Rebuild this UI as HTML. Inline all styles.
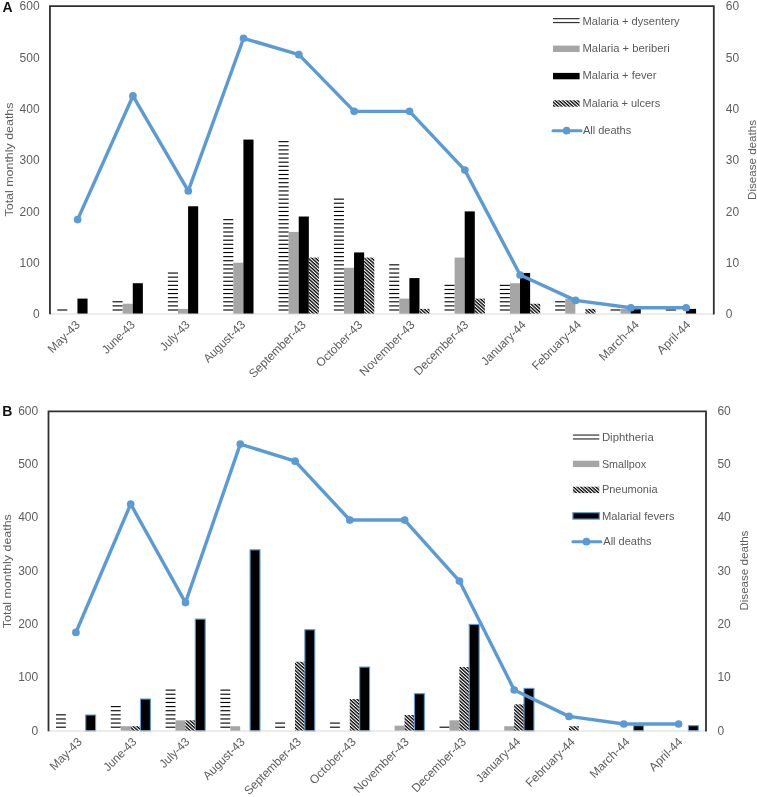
<!DOCTYPE html>
<html lang="en"><head><meta charset="utf-8"><title>Monthly deaths charts</title>
<style>
html,body{margin:0;padding:0;background:#fff;}
svg{display:block;}
.t{font-family:"Liberation Sans",sans-serif;font-size:12px;fill:#5e5e5e;}
.l{font-family:"Liberation Sans",sans-serif;font-size:10.8px;fill:#595959;}
.a{font-size:11.6px;}
.p{font-family:"Liberation Sans",sans-serif;font-size:14px;font-weight:bold;fill:#111;}
</style></head><body>
<svg width="757" height="797" viewBox="0 0 757 797">
<defs>
<pattern id="hatch" patternUnits="userSpaceOnUse" width="2.5" height="2.5" patternTransform="rotate(42)">
<rect x="0" y="0" width="2.5" height="2.5" fill="#fff"/>
<rect x="0" y="0" width="2.5" height="1.35" fill="#000"/>
</pattern>
</defs>
<rect x="0" y="0" width="757" height="797" fill="#fff"/>
<rect x="57.25" y="309.45" width="10.1" height="1.1" fill="#000"/>
<rect x="112.57" y="309.45" width="10.1" height="1.1" fill="#000"/>
<rect x="112.57" y="305.34" width="10.1" height="1.1" fill="#000"/>
<rect x="112.57" y="301.24" width="10.1" height="1.1" fill="#000"/>
<rect x="167.89" y="309.45" width="10.1" height="1.1" fill="#000"/>
<rect x="167.89" y="305.34" width="10.1" height="1.1" fill="#000"/>
<rect x="167.89" y="301.24" width="10.1" height="1.1" fill="#000"/>
<rect x="167.89" y="297.13" width="10.1" height="1.1" fill="#000"/>
<rect x="167.89" y="293.03" width="10.1" height="1.1" fill="#000"/>
<rect x="167.89" y="288.92" width="10.1" height="1.1" fill="#000"/>
<rect x="167.89" y="284.81" width="10.1" height="1.1" fill="#000"/>
<rect x="167.89" y="280.71" width="10.1" height="1.1" fill="#000"/>
<rect x="167.89" y="276.6" width="10.1" height="1.1" fill="#000"/>
<rect x="167.89" y="272.5" width="10.1" height="1.1" fill="#000"/>
<rect x="223.21" y="309.45" width="10.1" height="1.1" fill="#000"/>
<rect x="223.21" y="305.34" width="10.1" height="1.1" fill="#000"/>
<rect x="223.21" y="301.24" width="10.1" height="1.1" fill="#000"/>
<rect x="223.21" y="297.13" width="10.1" height="1.1" fill="#000"/>
<rect x="223.21" y="293.03" width="10.1" height="1.1" fill="#000"/>
<rect x="223.21" y="288.92" width="10.1" height="1.1" fill="#000"/>
<rect x="223.21" y="284.81" width="10.1" height="1.1" fill="#000"/>
<rect x="223.21" y="280.71" width="10.1" height="1.1" fill="#000"/>
<rect x="223.21" y="276.6" width="10.1" height="1.1" fill="#000"/>
<rect x="223.21" y="272.5" width="10.1" height="1.1" fill="#000"/>
<rect x="223.21" y="268.39" width="10.1" height="1.1" fill="#000"/>
<rect x="223.21" y="264.28" width="10.1" height="1.1" fill="#000"/>
<rect x="223.21" y="260.18" width="10.1" height="1.1" fill="#000"/>
<rect x="223.21" y="256.07" width="10.1" height="1.1" fill="#000"/>
<rect x="223.21" y="251.97" width="10.1" height="1.1" fill="#000"/>
<rect x="223.21" y="247.86" width="10.1" height="1.1" fill="#000"/>
<rect x="223.21" y="243.75" width="10.1" height="1.1" fill="#000"/>
<rect x="223.21" y="239.65" width="10.1" height="1.1" fill="#000"/>
<rect x="223.21" y="235.54" width="10.1" height="1.1" fill="#000"/>
<rect x="223.21" y="231.44" width="10.1" height="1.1" fill="#000"/>
<rect x="223.21" y="227.33" width="10.1" height="1.1" fill="#000"/>
<rect x="223.21" y="223.22" width="10.1" height="1.1" fill="#000"/>
<rect x="223.21" y="219.12" width="10.1" height="1.1" fill="#000"/>
<rect x="278.53" y="309.45" width="10.1" height="1.1" fill="#000"/>
<rect x="278.53" y="305.34" width="10.1" height="1.1" fill="#000"/>
<rect x="278.53" y="301.24" width="10.1" height="1.1" fill="#000"/>
<rect x="278.53" y="297.13" width="10.1" height="1.1" fill="#000"/>
<rect x="278.53" y="293.03" width="10.1" height="1.1" fill="#000"/>
<rect x="278.53" y="288.92" width="10.1" height="1.1" fill="#000"/>
<rect x="278.53" y="284.81" width="10.1" height="1.1" fill="#000"/>
<rect x="278.53" y="280.71" width="10.1" height="1.1" fill="#000"/>
<rect x="278.53" y="276.6" width="10.1" height="1.1" fill="#000"/>
<rect x="278.53" y="272.5" width="10.1" height="1.1" fill="#000"/>
<rect x="278.53" y="268.39" width="10.1" height="1.1" fill="#000"/>
<rect x="278.53" y="264.28" width="10.1" height="1.1" fill="#000"/>
<rect x="278.53" y="260.18" width="10.1" height="1.1" fill="#000"/>
<rect x="278.53" y="256.07" width="10.1" height="1.1" fill="#000"/>
<rect x="278.53" y="251.97" width="10.1" height="1.1" fill="#000"/>
<rect x="278.53" y="247.86" width="10.1" height="1.1" fill="#000"/>
<rect x="278.53" y="243.75" width="10.1" height="1.1" fill="#000"/>
<rect x="278.53" y="239.65" width="10.1" height="1.1" fill="#000"/>
<rect x="278.53" y="235.54" width="10.1" height="1.1" fill="#000"/>
<rect x="278.53" y="231.44" width="10.1" height="1.1" fill="#000"/>
<rect x="278.53" y="227.33" width="10.1" height="1.1" fill="#000"/>
<rect x="278.53" y="223.22" width="10.1" height="1.1" fill="#000"/>
<rect x="278.53" y="219.12" width="10.1" height="1.1" fill="#000"/>
<rect x="278.53" y="215.01" width="10.1" height="1.1" fill="#000"/>
<rect x="278.53" y="210.91" width="10.1" height="1.1" fill="#000"/>
<rect x="278.53" y="206.8" width="10.1" height="1.1" fill="#000"/>
<rect x="278.53" y="202.69" width="10.1" height="1.1" fill="#000"/>
<rect x="278.53" y="198.59" width="10.1" height="1.1" fill="#000"/>
<rect x="278.53" y="194.48" width="10.1" height="1.1" fill="#000"/>
<rect x="278.53" y="190.38" width="10.1" height="1.1" fill="#000"/>
<rect x="278.53" y="186.27" width="10.1" height="1.1" fill="#000"/>
<rect x="278.53" y="182.16" width="10.1" height="1.1" fill="#000"/>
<rect x="278.53" y="178.06" width="10.1" height="1.1" fill="#000"/>
<rect x="278.53" y="173.95" width="10.1" height="1.1" fill="#000"/>
<rect x="278.53" y="169.85" width="10.1" height="1.1" fill="#000"/>
<rect x="278.53" y="165.74" width="10.1" height="1.1" fill="#000"/>
<rect x="278.53" y="161.63" width="10.1" height="1.1" fill="#000"/>
<rect x="278.53" y="157.53" width="10.1" height="1.1" fill="#000"/>
<rect x="278.53" y="153.42" width="10.1" height="1.1" fill="#000"/>
<rect x="278.53" y="149.32" width="10.1" height="1.1" fill="#000"/>
<rect x="278.53" y="145.21" width="10.1" height="1.1" fill="#000"/>
<rect x="278.53" y="141.1" width="10.1" height="1.1" fill="#000"/>
<rect x="333.85" y="309.45" width="10.1" height="1.1" fill="#000"/>
<rect x="333.85" y="305.34" width="10.1" height="1.1" fill="#000"/>
<rect x="333.85" y="301.24" width="10.1" height="1.1" fill="#000"/>
<rect x="333.85" y="297.13" width="10.1" height="1.1" fill="#000"/>
<rect x="333.85" y="293.03" width="10.1" height="1.1" fill="#000"/>
<rect x="333.85" y="288.92" width="10.1" height="1.1" fill="#000"/>
<rect x="333.85" y="284.81" width="10.1" height="1.1" fill="#000"/>
<rect x="333.85" y="280.71" width="10.1" height="1.1" fill="#000"/>
<rect x="333.85" y="276.6" width="10.1" height="1.1" fill="#000"/>
<rect x="333.85" y="272.5" width="10.1" height="1.1" fill="#000"/>
<rect x="333.85" y="268.39" width="10.1" height="1.1" fill="#000"/>
<rect x="333.85" y="264.28" width="10.1" height="1.1" fill="#000"/>
<rect x="333.85" y="260.18" width="10.1" height="1.1" fill="#000"/>
<rect x="333.85" y="256.07" width="10.1" height="1.1" fill="#000"/>
<rect x="333.85" y="251.97" width="10.1" height="1.1" fill="#000"/>
<rect x="333.85" y="247.86" width="10.1" height="1.1" fill="#000"/>
<rect x="333.85" y="243.75" width="10.1" height="1.1" fill="#000"/>
<rect x="333.85" y="239.65" width="10.1" height="1.1" fill="#000"/>
<rect x="333.85" y="235.54" width="10.1" height="1.1" fill="#000"/>
<rect x="333.85" y="231.44" width="10.1" height="1.1" fill="#000"/>
<rect x="333.85" y="227.33" width="10.1" height="1.1" fill="#000"/>
<rect x="333.85" y="223.22" width="10.1" height="1.1" fill="#000"/>
<rect x="333.85" y="219.12" width="10.1" height="1.1" fill="#000"/>
<rect x="333.85" y="215.01" width="10.1" height="1.1" fill="#000"/>
<rect x="333.85" y="210.91" width="10.1" height="1.1" fill="#000"/>
<rect x="333.85" y="206.8" width="10.1" height="1.1" fill="#000"/>
<rect x="333.85" y="202.69" width="10.1" height="1.1" fill="#000"/>
<rect x="333.85" y="198.59" width="10.1" height="1.1" fill="#000"/>
<rect x="389.17" y="309.45" width="10.1" height="1.1" fill="#000"/>
<rect x="389.17" y="305.34" width="10.1" height="1.1" fill="#000"/>
<rect x="389.17" y="301.24" width="10.1" height="1.1" fill="#000"/>
<rect x="389.17" y="297.13" width="10.1" height="1.1" fill="#000"/>
<rect x="389.17" y="293.03" width="10.1" height="1.1" fill="#000"/>
<rect x="389.17" y="288.92" width="10.1" height="1.1" fill="#000"/>
<rect x="389.17" y="284.81" width="10.1" height="1.1" fill="#000"/>
<rect x="389.17" y="280.71" width="10.1" height="1.1" fill="#000"/>
<rect x="389.17" y="276.6" width="10.1" height="1.1" fill="#000"/>
<rect x="389.17" y="272.5" width="10.1" height="1.1" fill="#000"/>
<rect x="389.17" y="268.39" width="10.1" height="1.1" fill="#000"/>
<rect x="389.17" y="264.28" width="10.1" height="1.1" fill="#000"/>
<rect x="444.5" y="309.45" width="10.1" height="1.1" fill="#000"/>
<rect x="444.5" y="305.34" width="10.1" height="1.1" fill="#000"/>
<rect x="444.5" y="301.24" width="10.1" height="1.1" fill="#000"/>
<rect x="444.5" y="297.13" width="10.1" height="1.1" fill="#000"/>
<rect x="444.5" y="293.03" width="10.1" height="1.1" fill="#000"/>
<rect x="444.5" y="288.92" width="10.1" height="1.1" fill="#000"/>
<rect x="444.5" y="284.81" width="10.1" height="1.1" fill="#000"/>
<rect x="499.82" y="309.45" width="10.1" height="1.1" fill="#000"/>
<rect x="499.82" y="305.34" width="10.1" height="1.1" fill="#000"/>
<rect x="499.82" y="301.24" width="10.1" height="1.1" fill="#000"/>
<rect x="499.82" y="297.13" width="10.1" height="1.1" fill="#000"/>
<rect x="499.82" y="293.03" width="10.1" height="1.1" fill="#000"/>
<rect x="499.82" y="288.92" width="10.1" height="1.1" fill="#000"/>
<rect x="499.82" y="284.81" width="10.1" height="1.1" fill="#000"/>
<rect x="555.14" y="309.45" width="10.1" height="1.1" fill="#000"/>
<rect x="555.14" y="305.34" width="10.1" height="1.1" fill="#000"/>
<rect x="555.14" y="301.24" width="10.1" height="1.1" fill="#000"/>
<rect x="610.46" y="309.45" width="10.1" height="1.1" fill="#000"/>
<rect x="665.78" y="309.45" width="10.1" height="1.1" fill="#000"/>
<rect x="122.67" y="303.74" width="10.1" height="10.26" fill="#A6A6A6"/>
<rect x="177.99" y="308.87" width="10.1" height="5.13" fill="#A6A6A6"/>
<rect x="233.31" y="262.7" width="10.1" height="51.3" fill="#A6A6A6"/>
<rect x="288.63" y="231.92" width="10.1" height="82.08" fill="#A6A6A6"/>
<rect x="343.95" y="267.83" width="10.1" height="46.17" fill="#A6A6A6"/>
<rect x="399.27" y="298.61" width="10.1" height="15.39" fill="#A6A6A6"/>
<rect x="454.6" y="257.57" width="10.1" height="56.43" fill="#A6A6A6"/>
<rect x="509.92" y="283.22" width="10.1" height="30.78" fill="#A6A6A6"/>
<rect x="565.24" y="298.61" width="10.1" height="15.39" fill="#A6A6A6"/>
<rect x="620.56" y="308.87" width="10.1" height="5.13" fill="#A6A6A6"/>
<rect x="77.45" y="298.61" width="10.1" height="15.39" fill="#000"/>
<rect x="132.77" y="283.22" width="10.1" height="30.78" fill="#000"/>
<rect x="188.09" y="206.27" width="10.1" height="107.73" fill="#000"/>
<rect x="243.41" y="139.58" width="10.1" height="174.42" fill="#000"/>
<rect x="298.73" y="216.53" width="10.1" height="97.47" fill="#000"/>
<rect x="354.05" y="252.44" width="10.1" height="61.56" fill="#000"/>
<rect x="409.37" y="278.09" width="10.1" height="35.91" fill="#000"/>
<rect x="464.7" y="211.4" width="10.1" height="102.6" fill="#000"/>
<rect x="520.02" y="272.96" width="10.1" height="41.04" fill="#000"/>
<rect x="630.66" y="308.87" width="10.1" height="5.13" fill="#000"/>
<rect x="685.98" y="308.87" width="10.1" height="5.13" fill="#000"/>
<rect x="308.83" y="257.57" width="10.1" height="56.43" fill="url(#hatch)"/>
<rect x="364.15" y="257.57" width="10.1" height="56.43" fill="url(#hatch)"/>
<rect x="419.47" y="308.87" width="10.1" height="5.13" fill="url(#hatch)"/>
<rect x="474.8" y="298.61" width="10.1" height="15.39" fill="url(#hatch)"/>
<rect x="530.12" y="303.74" width="10.1" height="10.26" fill="url(#hatch)"/>
<rect x="585.44" y="308.87" width="10.1" height="5.13" fill="url(#hatch)"/>
<line x1="49.95" y1="314" x2="713.8" y2="314" stroke="#D9D9D9" stroke-width="1"/>
<polyline points="49.95,314.3 49.95,6.2 713.8,6.2 713.8,314.5" fill="none" stroke="#303030" stroke-width="1.8"/>
<polyline points="77.61,219.61 132.93,95.97 188.25,190.88 243.57,38.26 298.89,54.68 354.21,111.37 409.54,111.37 464.86,170.1 520.18,275.01 575.5,300.41 630.82,307.74 686.14,307.74" fill="none" stroke="#5B9BD5" stroke-width="3.4" stroke-linejoin="round" stroke-linecap="round"/>
<circle cx="77.61" cy="219.61" r="3.85" fill="#5B9BD5"/>
<circle cx="132.93" cy="95.97" r="3.85" fill="#5B9BD5"/>
<circle cx="188.25" cy="190.88" r="3.85" fill="#5B9BD5"/>
<circle cx="243.57" cy="38.26" r="3.85" fill="#5B9BD5"/>
<circle cx="298.89" cy="54.68" r="3.85" fill="#5B9BD5"/>
<circle cx="354.21" cy="111.37" r="3.85" fill="#5B9BD5"/>
<circle cx="409.54" cy="111.37" r="3.85" fill="#5B9BD5"/>
<circle cx="464.86" cy="170.1" r="3.85" fill="#5B9BD5"/>
<circle cx="520.18" cy="275.01" r="3.85" fill="#5B9BD5"/>
<circle cx="575.5" cy="300.41" r="3.85" fill="#5B9BD5"/>
<circle cx="630.82" cy="307.74" r="3.85" fill="#5B9BD5"/>
<circle cx="686.14" cy="307.74" r="3.85" fill="#5B9BD5"/>
<text x="32.92" y="318.2" class="t" textLength="6.68" lengthAdjust="spacingAndGlyphs">0</text>
<text x="725.8" y="318.2" class="t" textLength="6.68" lengthAdjust="spacingAndGlyphs">0</text>
<text x="19.57" y="266.9" class="t" textLength="20.03" lengthAdjust="spacingAndGlyphs">100</text>
<text x="725.8" y="266.9" class="t" textLength="13.35" lengthAdjust="spacingAndGlyphs">10</text>
<text x="19.57" y="215.6" class="t" textLength="20.03" lengthAdjust="spacingAndGlyphs">200</text>
<text x="725.8" y="215.6" class="t" textLength="13.35" lengthAdjust="spacingAndGlyphs">20</text>
<text x="19.57" y="164.3" class="t" textLength="20.03" lengthAdjust="spacingAndGlyphs">300</text>
<text x="725.8" y="164.3" class="t" textLength="13.35" lengthAdjust="spacingAndGlyphs">30</text>
<text x="19.57" y="113" class="t" textLength="20.03" lengthAdjust="spacingAndGlyphs">400</text>
<text x="725.8" y="113" class="t" textLength="13.35" lengthAdjust="spacingAndGlyphs">40</text>
<text x="19.57" y="61.7" class="t" textLength="20.03" lengthAdjust="spacingAndGlyphs">500</text>
<text x="725.8" y="61.7" class="t" textLength="13.35" lengthAdjust="spacingAndGlyphs">50</text>
<text x="19.57" y="10.4" class="t" textLength="20.03" lengthAdjust="spacingAndGlyphs">600</text>
<text x="725.8" y="10.4" class="t" textLength="13.35" lengthAdjust="spacingAndGlyphs">60</text>
<text transform="translate(80.76,325.5) rotate(-45)" x="-40.08" class="t" textLength="40.08" lengthAdjust="spacingAndGlyphs">May-43</text>
<text transform="translate(135.78,325.5) rotate(-45)" x="-41.11" class="t" textLength="41.11" lengthAdjust="spacingAndGlyphs">June-43</text>
<text transform="translate(190.6,325.5) rotate(-45)" x="-36.71" class="t" textLength="36.71" lengthAdjust="spacingAndGlyphs">July-43</text>
<text transform="translate(246.02,325.5) rotate(-45)" x="-53.48" class="t" textLength="53.48" lengthAdjust="spacingAndGlyphs">August-43</text>
<text transform="translate(306.74,325.5) rotate(-45)" x="-74.9" class="t" textLength="74.9" lengthAdjust="spacingAndGlyphs">September-43</text>
<text transform="translate(363.16,325.5) rotate(-45)" x="-59.84" class="t" textLength="59.84" lengthAdjust="spacingAndGlyphs">October-43</text>
<text transform="translate(415.49,325.5) rotate(-45)" x="-72.42" class="t" textLength="72.42" lengthAdjust="spacingAndGlyphs">November-43</text>
<text transform="translate(469.21,325.5) rotate(-45)" x="-71.27" class="t" textLength="71.27" lengthAdjust="spacingAndGlyphs">December-43</text>
<text transform="translate(526.53,325.5) rotate(-45)" x="-57.39" class="t" textLength="57.39" lengthAdjust="spacingAndGlyphs">January-44</text>
<text transform="translate(581.85,325.5) rotate(-45)" x="-63.95" class="t" textLength="63.95" lengthAdjust="spacingAndGlyphs">February-44</text>
<text transform="translate(639.77,325.5) rotate(-45)" x="-50.97" class="t" textLength="50.97" lengthAdjust="spacingAndGlyphs">March-44</text>
<text transform="translate(691.19,325.5) rotate(-45)" x="-41.68" class="t" textLength="41.68" lengthAdjust="spacingAndGlyphs">April-44</text>
<text transform="translate(13.1,159.5) rotate(-90)" x="-57" class="t a" textLength="114" lengthAdjust="spacingAndGlyphs">Total monthly deaths</text>
<text transform="translate(756,160) rotate(-90)" x="-40" class="t a" textLength="80" lengthAdjust="spacingAndGlyphs">Disease deaths</text>
<text x="2.6" y="11.8" class="p">A</text>
<rect x="553" y="18.05" width="26.6" height="1.2" fill="#333"/>
<rect x="553" y="21.95" width="26.6" height="1.2" fill="#333"/>
<text x="582.5" y="24.8" class="l" textLength="97.15" lengthAdjust="spacingAndGlyphs">Malaria + dysentery</text>
<rect x="553" y="45.6" width="26.6" height="6.4" fill="#A6A6A6"/>
<text x="582.5" y="52" class="l" textLength="87.23" lengthAdjust="spacingAndGlyphs">Malaria + beriberi</text>
<rect x="553" y="72.9" width="26.6" height="6.4" fill="#000"/>
<text x="582.5" y="79.3" class="l" textLength="74" lengthAdjust="spacingAndGlyphs">Malaria + fever</text>
<rect x="553" y="100.3" width="26.6" height="6.4" fill="url(#hatch)"/>
<text x="582.5" y="106.7" class="l" textLength="77.76" lengthAdjust="spacingAndGlyphs">Malaria + ulcers</text>
<line x1="553" y1="130.7" x2="581.1" y2="130.7" stroke="#5B9BD5" stroke-width="3.0" stroke-linecap="round"/>
<circle cx="566.6" cy="130.7" r="3.85" fill="#5B9BD5"/>
<text x="582.9" y="133.9" class="l" textLength="48.31" lengthAdjust="spacingAndGlyphs">All deaths</text>
<rect x="56" y="726.65" width="9.9" height="1.1" fill="#000"/>
<rect x="56" y="722.53" width="9.9" height="1.1" fill="#000"/>
<rect x="56" y="718.41" width="9.9" height="1.1" fill="#000"/>
<rect x="56" y="714.29" width="9.9" height="1.1" fill="#000"/>
<rect x="110.79" y="726.65" width="9.9" height="1.1" fill="#000"/>
<rect x="110.79" y="722.53" width="9.9" height="1.1" fill="#000"/>
<rect x="110.79" y="718.41" width="9.9" height="1.1" fill="#000"/>
<rect x="110.79" y="714.29" width="9.9" height="1.1" fill="#000"/>
<rect x="110.79" y="710.17" width="9.9" height="1.1" fill="#000"/>
<rect x="110.79" y="706.05" width="9.9" height="1.1" fill="#000"/>
<rect x="165.58" y="726.65" width="9.9" height="1.1" fill="#000"/>
<rect x="165.58" y="722.53" width="9.9" height="1.1" fill="#000"/>
<rect x="165.58" y="718.41" width="9.9" height="1.1" fill="#000"/>
<rect x="165.58" y="714.29" width="9.9" height="1.1" fill="#000"/>
<rect x="165.58" y="710.17" width="9.9" height="1.1" fill="#000"/>
<rect x="165.58" y="706.05" width="9.9" height="1.1" fill="#000"/>
<rect x="165.58" y="701.93" width="9.9" height="1.1" fill="#000"/>
<rect x="165.58" y="697.81" width="9.9" height="1.1" fill="#000"/>
<rect x="165.58" y="693.69" width="9.9" height="1.1" fill="#000"/>
<rect x="165.58" y="689.57" width="9.9" height="1.1" fill="#000"/>
<rect x="220.38" y="726.65" width="9.9" height="1.1" fill="#000"/>
<rect x="220.38" y="722.53" width="9.9" height="1.1" fill="#000"/>
<rect x="220.38" y="718.41" width="9.9" height="1.1" fill="#000"/>
<rect x="220.38" y="714.29" width="9.9" height="1.1" fill="#000"/>
<rect x="220.38" y="710.17" width="9.9" height="1.1" fill="#000"/>
<rect x="220.38" y="706.05" width="9.9" height="1.1" fill="#000"/>
<rect x="220.38" y="701.93" width="9.9" height="1.1" fill="#000"/>
<rect x="220.38" y="697.81" width="9.9" height="1.1" fill="#000"/>
<rect x="220.38" y="693.69" width="9.9" height="1.1" fill="#000"/>
<rect x="220.38" y="689.57" width="9.9" height="1.1" fill="#000"/>
<rect x="275.17" y="726.65" width="9.9" height="1.1" fill="#000"/>
<rect x="275.17" y="722.53" width="9.9" height="1.1" fill="#000"/>
<rect x="329.96" y="726.65" width="9.9" height="1.1" fill="#000"/>
<rect x="329.96" y="722.53" width="9.9" height="1.1" fill="#000"/>
<rect x="439.54" y="726.65" width="9.9" height="1.1" fill="#000"/>
<rect x="120.69" y="726.2" width="9.9" height="4.8" fill="#A6A6A6"/>
<rect x="175.48" y="720.34" width="9.9" height="10.66" fill="#A6A6A6"/>
<rect x="230.28" y="726.2" width="9.9" height="4.8" fill="#A6A6A6"/>
<rect x="394.65" y="725.67" width="9.9" height="5.33" fill="#A6A6A6"/>
<rect x="449.44" y="720.34" width="9.9" height="10.66" fill="#A6A6A6"/>
<rect x="504.23" y="726.2" width="9.9" height="4.8" fill="#A6A6A6"/>
<rect x="130.59" y="726.2" width="9.9" height="4.8" fill="url(#hatch)"/>
<rect x="185.38" y="720.34" width="9.9" height="10.66" fill="url(#hatch)"/>
<rect x="294.97" y="661.73" width="9.9" height="69.27" fill="url(#hatch)"/>
<rect x="349.76" y="699.03" width="9.9" height="31.97" fill="url(#hatch)"/>
<rect x="404.55" y="715.01" width="9.9" height="15.99" fill="url(#hatch)"/>
<rect x="459.34" y="667.06" width="9.9" height="63.94" fill="url(#hatch)"/>
<rect x="514.13" y="704.36" width="9.9" height="26.64" fill="url(#hatch)"/>
<rect x="568.92" y="726.2" width="9.9" height="4.8" fill="url(#hatch)"/>
<rect x="85.7" y="715.01" width="9.9" height="15.99" fill="#000" stroke="#5B9BD5" stroke-width="1.1"/>
<rect x="140.49" y="699.03" width="9.9" height="31.97" fill="#000" stroke="#5B9BD5" stroke-width="1.1"/>
<rect x="195.28" y="619.11" width="9.9" height="111.89" fill="#000" stroke="#5B9BD5" stroke-width="1.1"/>
<rect x="250.07" y="549.84" width="9.9" height="181.16" fill="#000" stroke="#5B9BD5" stroke-width="1.1"/>
<rect x="304.87" y="629.76" width="9.9" height="101.24" fill="#000" stroke="#5B9BD5" stroke-width="1.1"/>
<rect x="359.66" y="667.06" width="9.9" height="63.94" fill="#000" stroke="#5B9BD5" stroke-width="1.1"/>
<rect x="414.45" y="693.7" width="9.9" height="37.3" fill="#000" stroke="#5B9BD5" stroke-width="1.1"/>
<rect x="469.24" y="624.43" width="9.9" height="106.57" fill="#000" stroke="#5B9BD5" stroke-width="1.1"/>
<rect x="524.03" y="688.37" width="9.9" height="42.63" fill="#000" stroke="#5B9BD5" stroke-width="1.1"/>
<rect x="633.62" y="725.67" width="9.9" height="5.33" fill="#000" stroke="#5B9BD5" stroke-width="1.1"/>
<rect x="688.41" y="725.67" width="9.9" height="5.33" fill="#000" stroke="#5B9BD5" stroke-width="1.1"/>
<line x1="48.5" y1="731" x2="706" y2="731" stroke="#D9D9D9" stroke-width="1"/>
<polyline points="48.5,731.3 48.5,411.3 706,411.3 706,731.5" fill="none" stroke="#303030" stroke-width="1.8"/>
<polyline points="75.9,632.46 130.69,504.05 185.48,602.62 240.27,444.1 295.06,461.15 349.85,520.03 404.65,520.03 459.44,581.04 514.23,690 569.02,716.38 623.81,724 678.6,724" fill="none" stroke="#5B9BD5" stroke-width="3.4" stroke-linejoin="round" stroke-linecap="round"/>
<circle cx="75.9" cy="632.46" r="3.85" fill="#5B9BD5"/>
<circle cx="130.69" cy="504.05" r="3.85" fill="#5B9BD5"/>
<circle cx="185.48" cy="602.62" r="3.85" fill="#5B9BD5"/>
<circle cx="240.27" cy="444.1" r="3.85" fill="#5B9BD5"/>
<circle cx="295.06" cy="461.15" r="3.85" fill="#5B9BD5"/>
<circle cx="349.85" cy="520.03" r="3.85" fill="#5B9BD5"/>
<circle cx="404.65" cy="520.03" r="3.85" fill="#5B9BD5"/>
<circle cx="459.44" cy="581.04" r="3.85" fill="#5B9BD5"/>
<circle cx="514.23" cy="690" r="3.85" fill="#5B9BD5"/>
<circle cx="569.02" cy="716.38" r="3.85" fill="#5B9BD5"/>
<circle cx="623.81" cy="724" r="3.85" fill="#5B9BD5"/>
<circle cx="678.6" cy="724" r="3.85" fill="#5B9BD5"/>
<text x="31.52" y="734.5" class="t" textLength="6.68" lengthAdjust="spacingAndGlyphs">0</text>
<text x="717.4" y="734.5" class="t" textLength="6.68" lengthAdjust="spacingAndGlyphs">0</text>
<text x="18.17" y="681.22" class="t" textLength="20.03" lengthAdjust="spacingAndGlyphs">100</text>
<text x="717.4" y="681.22" class="t" textLength="13.35" lengthAdjust="spacingAndGlyphs">10</text>
<text x="18.17" y="627.93" class="t" textLength="20.03" lengthAdjust="spacingAndGlyphs">200</text>
<text x="717.4" y="627.93" class="t" textLength="13.35" lengthAdjust="spacingAndGlyphs">20</text>
<text x="18.17" y="574.65" class="t" textLength="20.03" lengthAdjust="spacingAndGlyphs">300</text>
<text x="717.4" y="574.65" class="t" textLength="13.35" lengthAdjust="spacingAndGlyphs">30</text>
<text x="18.17" y="521.37" class="t" textLength="20.03" lengthAdjust="spacingAndGlyphs">400</text>
<text x="717.4" y="521.37" class="t" textLength="13.35" lengthAdjust="spacingAndGlyphs">40</text>
<text x="18.17" y="468.08" class="t" textLength="20.03" lengthAdjust="spacingAndGlyphs">500</text>
<text x="717.4" y="468.08" class="t" textLength="13.35" lengthAdjust="spacingAndGlyphs">50</text>
<text x="18.17" y="414.8" class="t" textLength="20.03" lengthAdjust="spacingAndGlyphs">600</text>
<text x="717.4" y="414.8" class="t" textLength="13.35" lengthAdjust="spacingAndGlyphs">60</text>
<text transform="translate(82.74,742.6) rotate(-45)" x="-40.08" class="t" textLength="40.08" lengthAdjust="spacingAndGlyphs">May-43</text>
<text transform="translate(137.31,742.6) rotate(-45)" x="-41.11" class="t" textLength="41.11" lengthAdjust="spacingAndGlyphs">June-43</text>
<text transform="translate(190.18,742.6) rotate(-45)" x="-36.71" class="t" textLength="36.71" lengthAdjust="spacingAndGlyphs">July-43</text>
<text transform="translate(245.55,742.6) rotate(-45)" x="-53.48" class="t" textLength="53.48" lengthAdjust="spacingAndGlyphs">August-43</text>
<text transform="translate(301.92,742.6) rotate(-45)" x="-74.9" class="t" textLength="74.9" lengthAdjust="spacingAndGlyphs">September-43</text>
<text transform="translate(356.59,742.6) rotate(-45)" x="-59.84" class="t" textLength="59.84" lengthAdjust="spacingAndGlyphs">October-43</text>
<text transform="translate(409.77,742.6) rotate(-45)" x="-72.42" class="t" textLength="72.42" lengthAdjust="spacingAndGlyphs">November-43</text>
<text transform="translate(466.84,742.6) rotate(-45)" x="-71.27" class="t" textLength="71.27" lengthAdjust="spacingAndGlyphs">December-43</text>
<text transform="translate(521.21,742.6) rotate(-45)" x="-57.39" class="t" textLength="57.39" lengthAdjust="spacingAndGlyphs">January-44</text>
<text transform="translate(575.68,742.6) rotate(-45)" x="-63.95" class="t" textLength="63.95" lengthAdjust="spacingAndGlyphs">February-44</text>
<text transform="translate(630.45,742.6) rotate(-45)" x="-50.97" class="t" textLength="50.97" lengthAdjust="spacingAndGlyphs">March-44</text>
<text transform="translate(683.22,742.6) rotate(-45)" x="-41.68" class="t" textLength="41.68" lengthAdjust="spacingAndGlyphs">April-44</text>
<text transform="translate(10.9,571.2) rotate(-90)" x="-57" class="t a" textLength="114" lengthAdjust="spacingAndGlyphs">Total monthly deaths</text>
<text transform="translate(747.9,570.6) rotate(-90)" x="-40" class="t a" textLength="80" lengthAdjust="spacingAndGlyphs">Disease deaths</text>
<text x="2.2" y="416.1" class="p">B</text>
<rect x="572.9" y="434.45" width="26.4" height="1.2" fill="#333"/>
<rect x="572.9" y="438.35" width="26.4" height="1.2" fill="#333"/>
<text x="601.9" y="440.8" class="l" textLength="51.84" lengthAdjust="spacingAndGlyphs">Diphtheria</text>
<rect x="572.9" y="460.7" width="26.4" height="6.4" fill="#A6A6A6"/>
<text x="601.9" y="467.5" class="l" textLength="44.27" lengthAdjust="spacingAndGlyphs">Smallpox</text>
<rect x="572.9" y="486.7" width="26.4" height="6.4" fill="url(#hatch)"/>
<text x="601.9" y="493.3" class="l" textLength="55.63" lengthAdjust="spacingAndGlyphs">Pneumonia</text>
<rect x="572.9" y="512.7" width="26.4" height="6.4" fill="#000" stroke="#5B9BD5" stroke-width="1.2"/>
<text x="601.9" y="519.7" class="l" textLength="72.75" lengthAdjust="spacingAndGlyphs">Malarial fevers</text>
<line x1="572.9" y1="541.7" x2="600.8" y2="541.7" stroke="#5B9BD5" stroke-width="3.0" stroke-linecap="round"/>
<circle cx="586.4" cy="541.7" r="3.85" fill="#5B9BD5"/>
<text x="603.3" y="545.2" class="l" textLength="48.31" lengthAdjust="spacingAndGlyphs">All deaths</text>
</svg>
</body></html>
